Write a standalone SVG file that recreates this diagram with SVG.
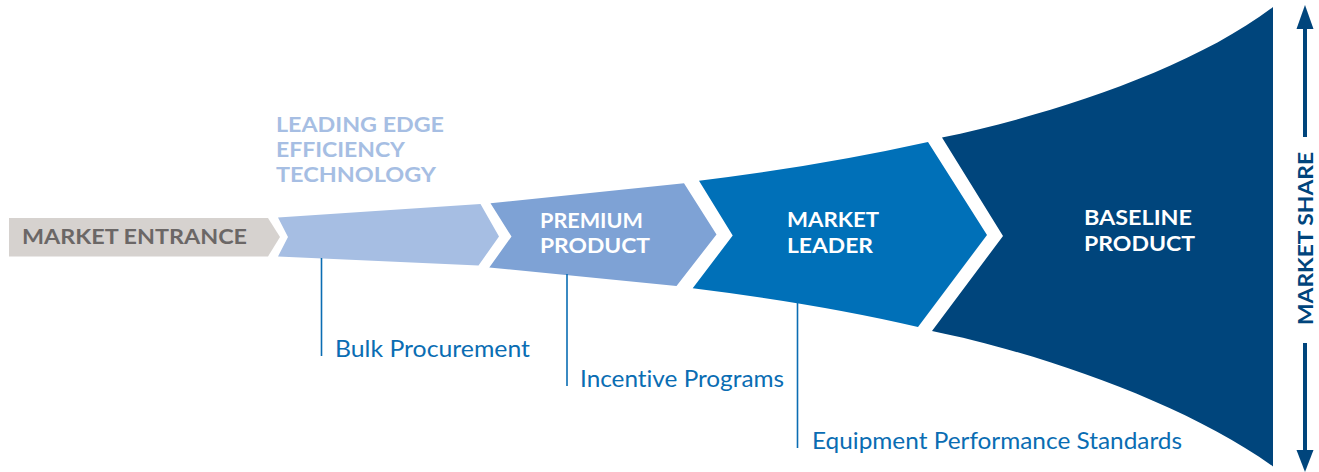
<svg xmlns="http://www.w3.org/2000/svg" width="1319" height="472" viewBox="0 0 1319 472">
<defs>
<style>
.cap{font-family:Lato,"Open Sans","Liberation Sans",sans-serif;font-weight:bold;font-size:20.5px;}
.white{fill:#ffffff;}
.lbl{font-family:Lato,"Open Sans","Liberation Sans",sans-serif;font-size:23px;fill:#0a6db3;font-variant-ligatures:none;}
.lead{stroke:#0a6db3;stroke-width:1.6;fill:none;}
.axis{stroke:#00457c;stroke-width:4;fill:none;}
.axhead{fill:#00457c;}
</style>
</defs>
<rect width="1319" height="472" fill="#ffffff"/>

<g id="market-entrance">
<polygon points="9,218 268,218 280,237 268,256.5 9,256.5" fill="#d6d2cf"/>
<text class="cap" x="22" y="244" fill="#6b6766" textLength="225" lengthAdjust="spacingAndGlyphs">MARKET ENTRANCE</text>
</g>

<g id="leading-edge">
<polygon points="278,217.5 480.5,204 499,236.5 478.5,265.5 278,256.5 288,237" fill="#a6bee3"/>
<text class="cap" fill="#a6bee3" textLength="168" lengthAdjust="spacingAndGlyphs" x="276" y="131.5">LEADING EDGE</text>
<text class="cap" fill="#a6bee3" textLength="129" lengthAdjust="spacingAndGlyphs" x="276" y="156.5">EFFICIENCY</text>
<text class="cap" fill="#a6bee3" textLength="160" lengthAdjust="spacingAndGlyphs" x="276" y="181.5">TECHNOLOGY</text>
</g>

<g id="premium-product">
<polygon points="490.5,203.3 684,183.3 716.5,234.5 676.5,286 489.3,267.5 511.5,236.5" fill="#7ea2d5"/>
<text class="cap white" x="540" y="228" textLength="103" lengthAdjust="spacingAndGlyphs">PREMIUM</text>
<text class="cap white" x="540" y="253" textLength="110" lengthAdjust="spacingAndGlyphs">PRODUCT</text>
</g>

<g id="market-leader">
<path d="M699,180.7 Q820,166 928,142 L987,235 L918,327 Q820,304 692.7,288.3 L732.7,235.5 Z" fill="#0070b8"/>
<text class="cap white" x="787" y="227" textLength="92" lengthAdjust="spacingAndGlyphs">MARKET</text>
<text class="cap white" x="787" y="253" textLength="86" lengthAdjust="spacingAndGlyphs">LEADER</text>
</g>

<g id="baseline-product">
<path d="M942,137.5 C1050,115 1190,70 1273,7 L1273,466.5 C1185,403 1040,353 932,331 L1003,236 Z" fill="#00457c"/>
<text class="cap white" x="1084" y="225" textLength="108" lengthAdjust="spacingAndGlyphs">BASELINE</text>
<text class="cap white" x="1084" y="251" textLength="111" lengthAdjust="spacingAndGlyphs">PRODUCT</text>
</g>

<g id="market-share-axis">
<line class="axis" x1="1305" y1="26" x2="1305" y2="137"/>
<polygon class="axhead" points="1305,5 1313.5,29 1296.5,29"/>
<line class="axis" x1="1305" y1="343" x2="1305" y2="452"/>
<polygon class="axhead" points="1296.5,450 1313.5,450 1305,472"/>
<text class="cap" fill="#00457c" transform="translate(1313,325) rotate(-90)" textLength="173" lengthAdjust="spacingAndGlyphs" x="0" y="0">MARKET SHARE</text>
</g>

<g id="connectors">
<line class="lead" x1="321.5" y1="258" x2="321.5" y2="356"/>
<line class="lead" x1="567" y1="274" x2="567" y2="386"/>
<line class="lead" x1="797.5" y1="303" x2="797.5" y2="448"/>
</g>

<g id="bulk-procurement">
<text class="lbl" x="335" y="357" textLength="195" lengthAdjust="spacingAndGlyphs">Bulk Procurement</text>
</g>
<g id="incentive-programs">
<text class="lbl" x="580" y="387" textLength="204" lengthAdjust="spacingAndGlyphs">Incentive Programs</text>
</g>
<g id="equipment-performance-standards">
<text class="lbl" x="812" y="449" textLength="370" lengthAdjust="spacingAndGlyphs">Equipment Performance Standards</text>
</g>
</svg>
